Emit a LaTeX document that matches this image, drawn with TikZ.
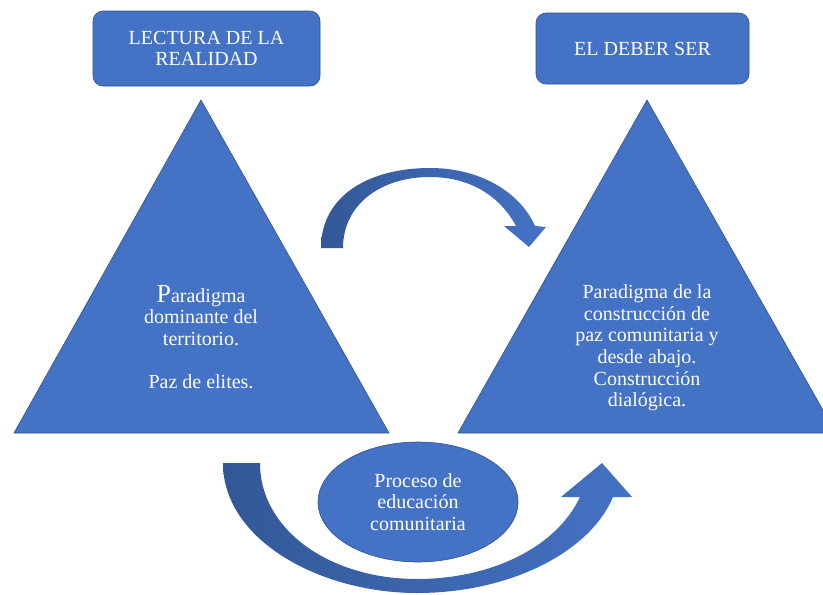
\documentclass[tikz,border=0pt]{standalone}
\usepackage{fontspec}
\setmainfont{Liberation Serif}
\usepackage{tikz}
\usepackage{tkz-euclide}
\usetikzlibrary{shapes.geometric}

\definecolor{officeblue}{HTML}{4472C4}
\definecolor{officeline}{HTML}{2F528F}
\definecolor{arrowdark}{HTML}{335897}

\tikzset{
  bodytext/.style={text=white, align=center, font=\fontsize{20}{21.6}\selectfont},
  titlebox/.style={bodytext, draw=officeline, fill=officeblue, rounded corners=10pt, line width=0.6pt},
  blockarrow/.style={left color=arrowdark, right color=officeblue}
}

\begin{document}
\begin{tikzpicture}[x=1pt,y=-1pt]
  \clip (0,0) rectangle (823,595);

  % triangulos
  \tkzDefPoints{201/100/A, 14/433/B, 389/433/C}
  \tkzDrawPolygon[draw=officeline, fill=officeblue, line width=0.6pt](A,B,C)

  \tkzDefPoints{647/100/D, 458/433/E, 836/433/F}
  \tkzDrawPolygon[draw=officeline, fill=officeblue, line width=0.6pt](D,E,F)

  % flecha de arriba
  \shade[blockarrow] (321,248) .. controls (321,195) and (370,168) .. (430,168)
    .. controls (480,168) and (520,192) .. (535,226)
    -- (546,227) -- (529,247) -- (504,226) -- (516,226)
    .. controls (500,196) and (470,177) .. (430,177)
    .. controls (380,177) and (343,205) .. (343,248) -- cycle;

  % flecha de abajo
  \shade[blockarrow] (223,463) .. controls (223,540) and (320,593) .. (417,593)
    .. controls (510,593) and (590,552) .. (613,497)
    -- (632,497) -- (602,463) -- (561,497) -- (580,497)
    .. controls (556,548) and (490,579) .. (417,579)
    .. controls (330,579) and (260,530) .. (260,463) -- cycle;

  \node[titlebox, minimum width=227pt, minimum height=75pt] (lectura) at (206.5,48.5) {LECTURA DE LA\\ REALIDAD};
  \node[titlebox, minimum width=213pt, minimum height=71pt] (deber) at (642.5,48.5) {EL DEBER SER};

  \node[bodytext] (dominante) at (201,337) {{\fontsize{26}{26}\selectfont P}aradigma\\ dominante del\\ territorio.\\[21.6pt] Paz de elites.};
  \node[bodytext] (construccion) at (647,348) {Paradigma de la\\ construcción de\\ paz comunitaria y\\ desde abajo.\\ Construcción\\ dialógica.};

  \node[ellipse, draw=officeline, fill=officeblue, line width=0.6pt, minimum width=200pt, minimum height=120pt, bodytext] (proceso) at (418,502) {Proceso de\\ educación\\ comunitaria};
\end{tikzpicture}
\end{document}
